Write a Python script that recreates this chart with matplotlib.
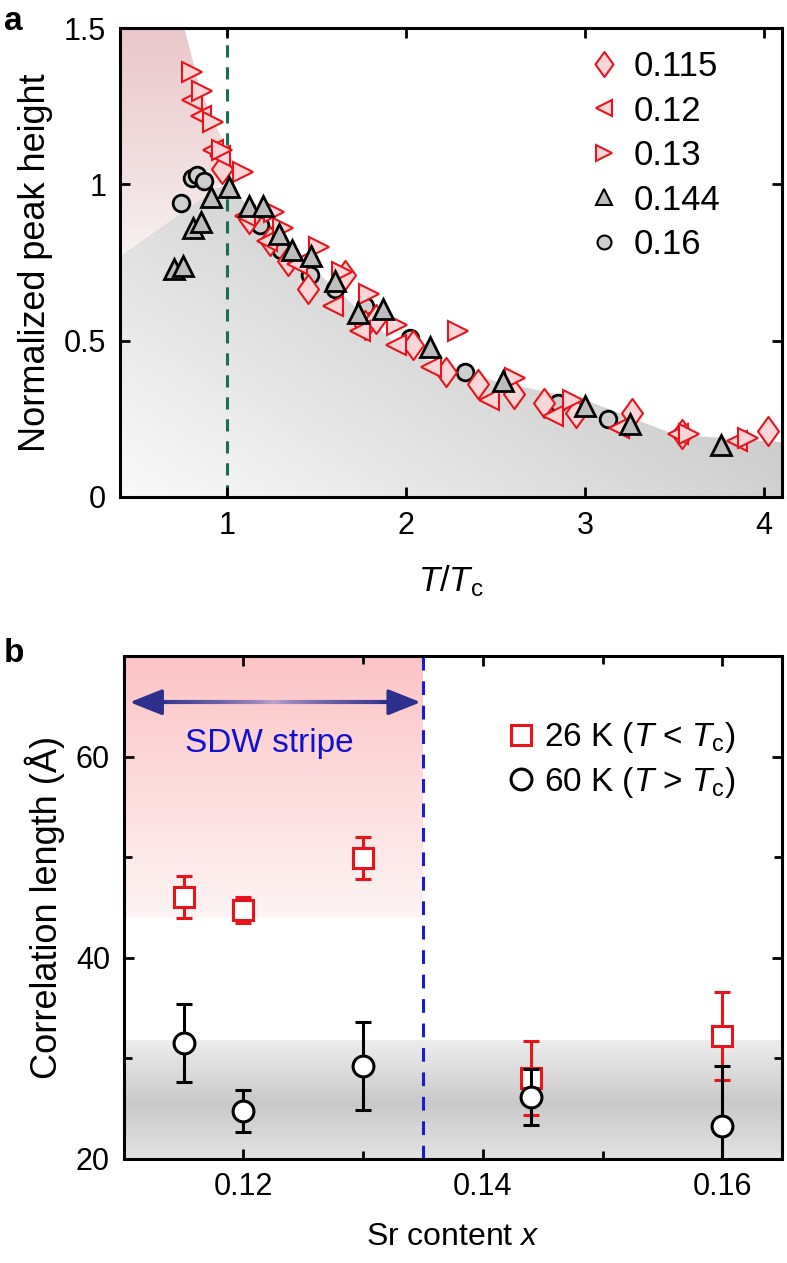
import numpy as np
import matplotlib
matplotlib.use("Agg")
import matplotlib.pyplot as plt
from matplotlib.patches import Polygon
from matplotlib.collections import LineCollection
from matplotlib.lines import Line2D
from matplotlib.path import Path

plt.rcParams['font.family'] = ['Liberation Sans', 'DejaVu Sans']
plt.rcParams['mathtext.fontset'] = 'custom'
plt.rcParams['mathtext.it'] = 'Liberation Sans:italic'
plt.rcParams['mathtext.rm'] = 'Liberation Sans'

# ---- panel a data: T/Tc vs normalized peak height ----
t115 = [0.97, 1.12, 1.24, 1.34, 1.45, 1.66, 1.77, 1.83, 2.04, 2.22, 2.40, 2.60, 2.77, 2.95, 3.26, 3.54, 4.02]
h115 = [1.05, 0.89, 0.82, 0.755, 0.665, 0.71, 0.55, 0.57, 0.485, 0.40, 0.36, 0.33, 0.30, 0.27, 0.27, 0.20, 0.21]

t12 = [0.80, 0.85, 0.92, 0.96, 1.10, 1.22, 1.39, 1.59, 1.74, 1.94, 2.14, 2.46, 2.82, 3.19, 3.52, 3.85]
h12 = [1.27, 1.22, 1.11, 1.09, 0.90, 0.82, 0.745, 0.61, 0.53, 0.485, 0.415, 0.31, 0.26, 0.22, 0.20, 0.18]

t13 = [0.80, 0.86, 0.92, 0.97, 1.09, 1.26, 1.31, 1.51, 1.64, 1.79, 1.95, 2.29, 2.61, 2.93, 3.58, 3.91]
h13 = [1.36, 1.30, 1.20, 1.11, 1.04, 0.91, 0.86, 0.80, 0.72, 0.65, 0.55, 0.53, 0.38, 0.31, 0.20, 0.19]

t144 = [0.70, 0.75, 0.81, 0.85, 0.91, 1.01, 1.12, 1.20, 1.29, 1.36, 1.47, 1.60, 1.73, 1.87, 2.13, 2.54, 3.00, 3.25, 3.76]
h144 = [0.73, 0.74, 0.86, 0.88, 0.96, 0.99, 0.93, 0.93, 0.84, 0.79, 0.77, 0.69, 0.59, 0.60, 0.48, 0.37, 0.29, 0.235, 0.165]

t16 = [0.74, 0.80, 0.83, 0.87, 1.18, 1.30, 1.46, 1.60, 1.77, 2.02, 2.33, 2.85, 3.13]
h16 = [0.94, 1.02, 1.03, 1.01, 0.87, 0.79, 0.71, 0.665, 0.61, 0.51, 0.40, 0.30, 0.25]

# shaded region outlines (panel a)
pink_x = [0.4, 0.76, 0.85, 0.95, 1.05, 0.9, 0.4]
pink_y = [1.5, 1.5, 1.3, 1.17, 1.05, 0.97, 0.77]
gray_x = [0.4, 0.4, 0.9, 1.0, 1.2, 1.5, 2.0, 2.5, 3.0, 3.5, 4.1, 4.1]
gray_y = [0.0, 0.77, 0.98, 1.0, 0.88, 0.72, 0.46, 0.37, 0.31, 0.20, 0.175, 0.0]

# ---- panel b data: correlation length ----
x26 = [0.115, 0.12, 0.13, 0.144, 0.16]
y26 = [46.0, 44.7, 49.9, 28.0, 32.2]
e26 = [2.1, 1.3, 2.1, 3.7, 4.4]
x60 = [0.115, 0.12, 0.13, 0.144, 0.16]
y60 = [31.5, 24.7, 29.2, 26.1, 23.2]
e60 = [3.9, 2.1, 4.4, 2.8, 6.0]

fig = plt.figure(figsize=(7.87, 12.63), dpi=100)
ax1 = fig.add_axes([0.1525, 0.6065, 0.8412, 0.3713])
ax2 = fig.add_axes([0.1573, 0.0827, 0.8364, 0.3979])


def gradient_fill(ax, img, extent, px, py, z=0):
    poly = Polygon(np.column_stack([px, py]), closed=True, facecolor='none', edgecolor='none')
    ax.add_patch(poly)
    im = ax.imshow(img, extent=extent, origin='lower', aspect='auto', zorder=z, interpolation='bilinear')
    im.set_clip_path(poly)


# fatter diamond than 'd'
diamond = Path([(0, 1), (0.72, 0), (0, -1), (-0.72, 0), (0, 1)],
               [Path.MOVETO, Path.LINETO, Path.LINETO, Path.LINETO, Path.CLOSEPOLY])

# ---------- panel a ----------
ax1.set_xlim(0.4, 4.1)
ax1.set_ylim(0, 1.5)

n = 200
gx, gy = np.meshgrid(np.linspace(0, 1, n), np.linspace(0, 1, n))
t = np.clip(gx * 0.9 + gy * 1.0, 0, 1)
g = (250 - 45 * t) / 255
gray_img = np.dstack([g, g, g])
gradient_fill(ax1, gray_img, (0.4, 4.1, 0, 1.5), gray_x, gray_y)

v = np.linspace(0, 1, n)[:, None] * np.ones((1, n))
top = np.array([234, 200, 203]) / 255
bot = np.array([248, 244, 244]) / 255
s = np.clip((v * 1.5 - 0.77) / 0.73, 0, 1)[..., None] ** 0.8
pink_img = bot + (top - bot) * s
gradient_fill(ax1, pink_img, (0.4, 4.1, 0, 1.5), pink_x, pink_y)

ax1.axvline(1.0, color='#1d6b5b', lw=2.2, ls=(0, (4, 3.2)), zorder=1)

red_face = '#fbd6d9'
kw_red = dict(ls='none', mec='#e8141c', mfc=red_face, mew=1.5)
kw_blk = dict(ls='none', mec='black', mew=2.0)
ax1.plot(t16, h16, marker='o', ms=12, mfc='#cfcfcf', zorder=3, **kw_blk)
ax1.plot(t115, h115, marker=diamond, ms=21, zorder=4, **kw_red)
ax1.plot(t12, h12, marker='<', ms=14, zorder=4, **kw_red)
ax1.plot(t13, h13, marker='>', ms=14, zorder=4, **kw_red)
ax1.plot(t144, h144, marker='^', ms=14, mfc='#bdbdbd', zorder=5, **kw_blk)

handles = [
    Line2D([], [], marker=diamond, ms=18, **kw_red),
    Line2D([], [], marker='<', ms=11, **kw_red),
    Line2D([], [], marker='>', ms=11, **kw_red),
    Line2D([], [], marker='^', ms=11, mfc='#bdbdbd', ls='none', mec='black', mew=1.5),
    Line2D([], [], marker='o', ms=10, mfc='#cfcfcf', ls='none', mec='black', mew=1.5),
]
ax1.legend(handles, ['0.115', '0.12', '0.13', '0.144', '0.16'], loc='upper left',
           bbox_to_anchor=(0.695, 0.975), frameon=False, fontsize=25, handlelength=0.8,
           handletextpad=0.45, labelspacing=0.33, borderaxespad=0, borderpad=0.3)

ax1.set_xticks([1, 2, 3, 4])
ax1.set_yticks([0, 0.5, 1, 1.5])
ax1.set_yticklabels(['0', '0.5', '1', '1.5'])
ax1.set_xlabel(r'$T$/$T_{\rm c}$', fontsize=25, labelpad=16)
ax1.set_ylabel('Normalized peak height', fontsize=26, labelpad=8)

# ---------- panel b ----------
ax2.set_xlim(0.11, 0.165)
ax2.set_ylim(20, 70)

vy = np.linspace(20, 70, 400)
inband = vy <= 31.8
prof = np.where(vy < 25.5, 0.79 + 0.10 * (25.5 - vy) / 5.5, 0.79 + 0.14 * (vy - 25.5) / 6.3)
gb = np.where(inband, prof, 1.0)
gimg = np.repeat(gb[:, None], 2, axis=1)
gimg = np.dstack([gimg, gimg, gimg])
band = Polygon([[0.11, 20], [0.165, 20], [0.165, 31.8], [0.11, 31.8]], closed=True, fc='none', ec='none')
ax2.add_patch(band)
imb = ax2.imshow(gimg, extent=(0.11, 0.165, 20, 70), origin='lower', aspect='auto', zorder=0, interpolation='bilinear')
imb.set_clip_path(band)

ptop = np.array([252, 196, 198]) / 255
pbot = np.array([254, 244, 244]) / 255
pv = np.clip((vy - 44) / 26, 0, 1)[:, None]
pimg = pbot + (ptop - pbot) * pv
pimg = np.repeat(pimg[:, None, :], 2, axis=1)
pink_b = Polygon([[0.11, 44], [0.135, 44], [0.135, 70], [0.11, 70]], closed=True, fc='none', ec='none')
ax2.add_patch(pink_b)
imp = ax2.imshow(pimg, extent=(0.11, 0.165, 20, 70), origin='lower', aspect='auto', zorder=0, interpolation='bilinear')
imp.set_clip_path(pink_b)

ax2.axvline(0.135, color='#1a1ad8', lw=2.2, ls=(0, (4.5, 3.5)), zorder=1)

# arrow with gradient shaft
ay = 65.4
xs = np.linspace(0.1125, 0.1325, 101)
segs = [[[xs[i], ay], [xs[i + 1], ay]] for i in range(len(xs) - 1)]
mid = np.abs((xs[:-1] + xs[1:]) / 2 - 0.1225) / 0.01
c_end = np.array([44, 48, 140]) / 255
c_mid = np.array([195, 165, 205]) / 255
cols = c_mid + (c_end - c_mid) * np.clip(mid, 0, 1)[:, None] ** 0.7
ax2.add_collection(LineCollection(segs, colors=cols, linewidths=3, zorder=2))
for x0, x1 in [(0.1135, 0.1105), (0.1315, 0.1348)]:
    ax2.annotate('', xy=(x1, ay), xytext=(x0, ay),
                 arrowprops=dict(arrowstyle='-|>,head_length=2.0,head_width=0.8', color='#2c308c',
                                 lw=2.5, shrinkA=0, shrinkB=0), zorder=3)
ax2.text(0.1222, 61.3, 'SDW stripe', color='#1010d0', fontsize=24, ha='center', va='center')

ax2.errorbar(x26, y26, yerr=e26, fmt='s', ms=14, mfc='white', mec='#e8141c', mew=2.2,
             ecolor='#e8141c', elinewidth=2.2, capsize=6, capthick=2.2, zorder=3)
ax2.errorbar(x60, y60, yerr=e60, fmt='o', ms=15, mfc='white', mec='black', mew=2.2,
             ecolor='black', elinewidth=2.2, capsize=6, capthick=2.2, zorder=4)

hb = [Line2D([], [], marker='s', ms=14, mfc='white', mec='#e8141c', mew=2.2, ls='none'),
      Line2D([], [], marker='o', ms=15, mfc='white', mec='black', mew=2.2, ls='none')]
ax2.legend(hb, [r'26 K ($T$ < $T_{\rm c}$)', r'60 K ($T$ > $T_{\rm c}$)'], loc='upper left',
           bbox_to_anchor=(0.575, 0.885), frameon=False, fontsize=24, handlelength=0.7,
           handletextpad=0.35, labelspacing=0.28, borderaxespad=0, borderpad=0.2)

ax2.set_xticks([0.12, 0.14, 0.16])
ax2.set_xticklabels(['0.12', '0.14', '0.16'])
ax2.set_xticks([0.11, 0.13, 0.15], minor=True)
ax2.set_yticks([20, 40, 60])
ax2.set_yticks([30, 50], minor=True)
ax2.set_xlabel(r'Sr content $x$', fontsize=23, labelpad=14)
ax2.set_ylabel('Correlation length (Å)', fontsize=26, labelpad=8)

for ax in (ax1, ax2):
    for sp in ax.spines.values():
        sp.set_linewidth(2.2)
        sp.set_zorder(6)
    ax.tick_params(which='both', direction='in', top=True, right=True, width=2, labelsize=22, pad=10)
    ax.tick_params(which='major', length=7)
    ax.tick_params(which='minor', length=6)

fig.text(0.005, 0.995, 'a', fontsize=24, fontweight='bold', va='top')
fig.text(0.005, 0.495, 'b', fontsize=24, fontweight='bold', va='top')

fig.savefig('out.png', dpi=100)
